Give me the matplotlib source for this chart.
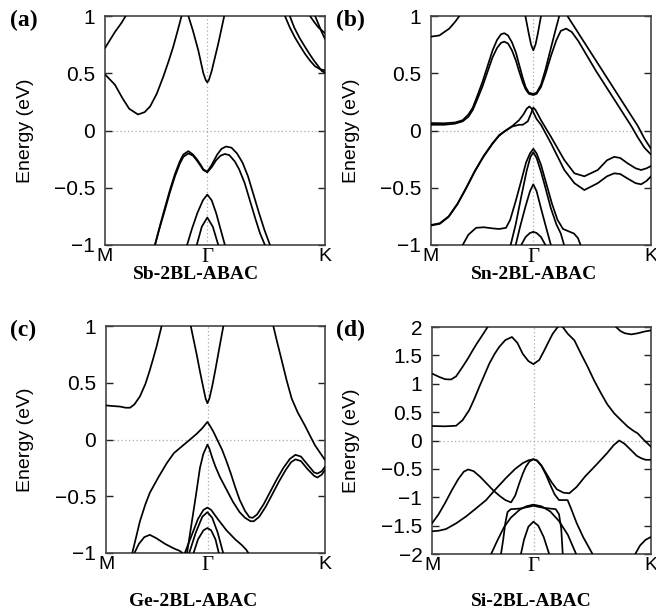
import matplotlib
matplotlib.use("Agg")
import matplotlib.pyplot as plt

# ---------------- k-path (fraction of path length) ----------------
K_TICKS = [0.0, 0.464, 1.0]
K_LABELS = ["M", "Γ", "K"]

# ---------------- (a) Sb-2BL-ABAC ----------------
sb_c1 = [(0, 0.72), (0.045, 0.86), (0.075, 0.94), (0.1, 1.02)]
sb_c2 = [(0, 0.49), (0.045, 0.40), (0.08, 0.28), (0.11, 0.19), (0.15, 0.14), (0.18, 0.16),
         (0.205, 0.21), (0.235, 0.32), (0.265, 0.47), (0.29, 0.61), (0.31, 0.73), (0.33, 0.87), (0.348, 1.0)]
sb_c3 = [(0.379, 1.0), (0.40, 0.87), (0.424, 0.70), (0.447, 0.50), (0.458, 0.44), (0.465, 0.42),
         (0.472, 0.44), (0.485, 0.52), (0.50, 0.64), (0.515, 0.76), (0.542, 1.0)]
sb_c4 = [(0.818, 1.0), (0.84, 0.90), (0.864, 0.81), (0.886, 0.74), (0.909, 0.67), (0.932, 0.61),
         (0.955, 0.56), (0.978, 0.535), (1.0, 0.525)]
sb_c5 = [(0.84, 1.0), (0.86, 0.90), (0.884, 0.81), (0.906, 0.74), (0.929, 0.67), (0.95, 0.61),
         (0.97, 0.56), (0.985, 0.52), (1.0, 0.505)]
sb_c6 = [(0.932, 1.0), (0.95, 0.95), (0.97, 0.90), (1.0, 0.85)]
sb_c7 = [(0.955, 1.0), (0.97, 0.93), (0.985, 0.86), (1.0, 0.80)]
sb_v1 = [(0.227, -1.0), (0.25, -0.84), (0.273, -0.69), (0.295, -0.54), (0.318, -0.40), (0.34, -0.29),
         (0.356, -0.23), (0.379, -0.20), (0.40, -0.22), (0.417, -0.26), (0.435, -0.31), (0.447, -0.345),
         (0.465, -0.365), (0.485, -0.32), (0.505, -0.26), (0.525, -0.22), (0.545, -0.205), (0.565, -0.215),
         (0.59, -0.27), (0.61, -0.34), (0.635, -0.46), (0.66, -0.62), (0.685, -0.78), (0.705, -0.90), (0.727, -1.0)]
sb_v2 = [(0.227, -1.0), (0.25, -0.83), (0.273, -0.67), (0.295, -0.52), (0.318, -0.38), (0.34, -0.27),
         (0.356, -0.21), (0.379, -0.18), (0.40, -0.21), (0.417, -0.25), (0.435, -0.30), (0.447, -0.34),
         (0.465, -0.36), (0.485, -0.30), (0.51, -0.21), (0.53, -0.16), (0.55, -0.14), (0.575, -0.15),
         (0.60, -0.20), (0.625, -0.28), (0.65, -0.40), (0.675, -0.56), (0.70, -0.72), (0.725, -0.87), (0.75, -1.0)]
sb_v3 = [(0.373, -1.0), (0.395, -0.86), (0.42, -0.72), (0.445, -0.61), (0.465, -0.56), (0.485, -0.61),
         (0.505, -0.72), (0.525, -0.86), (0.545, -1.0)]
sb_v4 = [(0.417, -1.0), (0.44, -0.84), (0.465, -0.76), (0.49, -0.84), (0.515, -1.0)]
SB_BANDS = [sb_c1, sb_c2, sb_c3, sb_c4, sb_c5, sb_c6, sb_c7, sb_v1, sb_v2, sb_v3, sb_v4]

# ---------------- (b) Sn-2BL-ABAC ----------------
sn_c1 = [(0, 0.82), (0.038, 0.83), (0.083, 0.89), (0.11, 0.95), (0.129, 1.0)]
sn_c2 = [(0.429, 1.0), (0.445, 0.84), (0.455, 0.75), (0.465, 0.70), (0.475, 0.75), (0.485, 0.84), (0.50, 1.0)]
sn_c3 = [(0, 0.065), (0.06, 0.063), (0.11, 0.07), (0.144, 0.09), (0.17, 0.14), (0.19, 0.20), (0.21, 0.30),
         (0.235, 0.43), (0.26, 0.58), (0.28, 0.70), (0.30, 0.79), (0.318, 0.84), (0.333, 0.85), (0.35, 0.83),
         (0.368, 0.77), (0.386, 0.68), (0.40, 0.58), (0.417, 0.46), (0.43, 0.38), (0.445, 0.33), (0.465, 0.32),
         (0.48, 0.33), (0.50, 0.40), (0.52, 0.53), (0.545, 0.72), (0.565, 0.87), (0.583, 1.0)]
sn_c4 = [(0, 0.05), (0.06, 0.05), (0.11, 0.06), (0.144, 0.08), (0.17, 0.12), (0.19, 0.18), (0.21, 0.27),
         (0.235, 0.39), (0.26, 0.53), (0.28, 0.64), (0.30, 0.72), (0.318, 0.765), (0.333, 0.776), (0.35, 0.76),
         (0.368, 0.70), (0.386, 0.61), (0.40, 0.52), (0.417, 0.42), (0.43, 0.36), (0.445, 0.32), (0.465, 0.31),
         (0.48, 0.32), (0.50, 0.38), (0.52, 0.49), (0.545, 0.65), (0.57, 0.79), (0.59, 0.87), (0.614, 0.89),
         (0.64, 0.86), (0.67, 0.78), (0.71, 0.65), (0.75, 0.52), (0.79, 0.40), (0.83, 0.28), (0.87, 0.16),
         (0.91, 0.04), (0.94, -0.06), (0.97, -0.15), (1.0, -0.21)]
sn_c5 = [(0.62, 1.0), (0.66, 0.88), (0.70, 0.76), (0.74, 0.64), (0.78, 0.52), (0.82, 0.40), (0.86, 0.28),
         (0.90, 0.16), (0.94, 0.04), (0.97, -0.07), (1.0, -0.16)]
sn_v1 = [(0, -0.825), (0.04, -0.81), (0.08, -0.75), (0.12, -0.64), (0.16, -0.50), (0.20, -0.35), (0.24, -0.22),
         (0.28, -0.11), (0.31, -0.04), (0.34, 0.0), (0.37, 0.04), (0.40, 0.09), (0.42, 0.14), (0.435, 0.19),
         (0.447, 0.21), (0.458, 0.19), (0.465, 0.16), (0.48, 0.10), (0.50, 0.05), (0.545, -0.11), (0.606, -0.345),
         (0.652, -0.46), (0.697, -0.52), (0.758, -0.46), (0.80, -0.40), (0.833, -0.374), (0.86, -0.38),
         (0.894, -0.42), (0.93, -0.46), (0.955, -0.47), (0.98, -0.44), (1.0, -0.40)]
sn_v2 = [(0, -0.83), (0.04, -0.815), (0.08, -0.755), (0.12, -0.645), (0.16, -0.505), (0.20, -0.355),
         (0.24, -0.225), (0.28, -0.115), (0.31, -0.045), (0.34, 0.0), (0.37, 0.035), (0.40, 0.05), (0.417, 0.05),
         (0.44, 0.08), (0.455, 0.15), (0.465, 0.20), (0.475, 0.18), (0.50, 0.09), (0.545, -0.054), (0.606, -0.258),
         (0.652, -0.374), (0.697, -0.40), (0.758, -0.345), (0.80, -0.26), (0.833, -0.23), (0.86, -0.24),
         (0.894, -0.287), (0.93, -0.33), (0.955, -0.345), (0.98, -0.33), (1.0, -0.31)]
sn_v3 = [(0.144, -1.0), (0.17, -0.91), (0.205, -0.85), (0.24, -0.845), (0.28, -0.855), (0.31, -0.86),
         (0.341, -0.85), (0.36, -0.78), (0.386, -0.61), (0.41, -0.44), (0.432, -0.28), (0.45, -0.20),
         (0.465, -0.16), (0.48, -0.20), (0.50, -0.30), (0.525, -0.47), (0.55, -0.64), (0.575, -0.78),
         (0.60, -0.86), (0.625, -0.88), (0.65, -0.90), (0.668, -0.94), (0.68, -1.0)]
sn_v4 = [(0.362, -1.0), (0.385, -0.82), (0.41, -0.58), (0.435, -0.35), (0.452, -0.23), (0.465, -0.19),
         (0.48, -0.24), (0.50, -0.36), (0.52, -0.50), (0.545, -0.68), (0.57, -0.82), (0.59, -0.90), (0.605, -1.0)]
sn_v5 = [(0.385, -1.0), (0.405, -0.84), (0.43, -0.66), (0.45, -0.53), (0.465, -0.47), (0.48, -0.53),
         (0.50, -0.68), (0.525, -0.86), (0.545, -1.0)]
sn_v6 = [(0.41, -1.0), (0.43, -0.93), (0.45, -0.895), (0.465, -0.885), (0.48, -0.895), (0.50, -0.93), (0.52, -1.0)]
SN_BANDS = [sn_c1, sn_c2, sn_c3, sn_c4, sn_c5, sn_v1, sn_v2, sn_v3, sn_v4, sn_v5, sn_v6]

# ---------------- (c) Ge-2BL-ABAC ----------------
ge_c1 = [(0, 0.30), (0.03, 0.295), (0.064, 0.29), (0.09, 0.28), (0.11, 0.28), (0.13, 0.31), (0.155, 0.38),
         (0.18, 0.49), (0.20, 0.61), (0.215, 0.71), (0.231, 0.82), (0.254, 1.0)]
ge_c2 = [(0.387, 1.0), (0.40, 0.88), (0.415, 0.74), (0.43, 0.59), (0.445, 0.45), (0.455, 0.36), (0.463, 0.32),
         (0.472, 0.36), (0.485, 0.47), (0.50, 0.62), (0.515, 0.78), (0.536, 1.0)]
ge_c3 = [(0.764, 1.0), (0.78, 0.87), (0.802, 0.70), (0.825, 0.52), (0.848, 0.36), (0.875, 0.24), (0.909, 0.12),
         (0.93, 0.04), (0.954, -0.05), (0.975, -0.11), (1.0, -0.18)]
ge_v1 = [(0.12, -1.0), (0.135, -0.88), (0.155, -0.72), (0.18, -0.57), (0.20, -0.47), (0.24, -0.33),
         (0.277, -0.21), (0.31, -0.12), (0.353, -0.05), (0.39, 0.01), (0.414, 0.05), (0.44, 0.10), (0.463, 0.155),
         (0.475, 0.12), (0.49, 0.07), (0.51, -0.01), (0.53, -0.09), (0.55, -0.19), (0.57, -0.30), (0.59, -0.42),
         (0.61, -0.53), (0.635, -0.63), (0.655, -0.685), (0.67, -0.69), (0.69, -0.66), (0.72, -0.57),
         (0.75, -0.46), (0.78, -0.35), (0.81, -0.25), (0.84, -0.17), (0.865, -0.135), (0.89, -0.15),
         (0.92, -0.22), (0.95, -0.29), (0.965, -0.30), (0.985, -0.28), (1.0, -0.24)]
ge_v2 = [(0.37, -1.0), (0.39, -0.75), (0.41, -0.50), (0.429, -0.25), (0.444, -0.13), (0.463, -0.045),
         (0.472, -0.08), (0.485, -0.16), (0.50, -0.24), (0.52, -0.33), (0.55, -0.44), (0.58, -0.55), (0.61, -0.64),
         (0.635, -0.69), (0.66, -0.72), (0.675, -0.72), (0.70, -0.68), (0.73, -0.59), (0.76, -0.48), (0.79, -0.37),
         (0.82, -0.27), (0.845, -0.20), (0.865, -0.175), (0.89, -0.19), (0.92, -0.26), (0.95, -0.32),
         (0.965, -0.335), (0.985, -0.31), (1.0, -0.27)]
ge_v3 = [(0.13, -1.0), (0.15, -0.92), (0.175, -0.86), (0.2, -0.84), (0.23, -0.87), (0.27, -0.92), (0.31, -0.96),
         (0.335, -0.98), (0.35, -1.0)]
ge_v4 = [(0.36, -1.0), (0.39, -0.85), (0.42, -0.70), (0.445, -0.62), (0.463, -0.60), (0.48, -0.62), (0.51, -0.70),
         (0.55, -0.80), (0.59, -0.88), (0.62, -0.93), (0.64, -0.97), (0.65, -1.0)]
ge_v5 = [(0.38, -1.0), (0.41, -0.82), (0.44, -0.68), (0.463, -0.64), (0.485, -0.69), (0.51, -0.82), (0.535, -1.0)]
ge_v6 = [(0.40, -1.0), (0.42, -0.88), (0.445, -0.80), (0.463, -0.78), (0.48, -0.80), (0.50, -0.88), (0.515, -1.0)]
GE_BANDS = [ge_c1, ge_c2, ge_c3, ge_v1, ge_v2, ge_v3, ge_v4, ge_v5, ge_v6]

# ---------------- (d) Si-2BL-ABAC ----------------
si_c1 = [(0, 1.18), (0.033, 1.12), (0.06, 1.08), (0.087, 1.075), (0.11, 1.13), (0.14, 1.30), (0.165, 1.45),
         (0.186, 1.59), (0.205, 1.71), (0.224, 1.82), (0.254, 2.0)]
si_c2 = [(0, 0.255), (0.06, 0.25), (0.11, 0.26), (0.14, 0.36), (0.17, 0.536), (0.193, 0.73), (0.216, 0.946),
         (0.24, 1.16), (0.262, 1.357), (0.285, 1.52), (0.307, 1.65), (0.335, 1.77), (0.365, 1.824), (0.39, 1.72),
         (0.414, 1.53), (0.44, 1.40), (0.463, 1.345), (0.49, 1.42), (0.513, 1.59), (0.535, 1.76), (0.551, 1.88),
         (0.574, 2.0), (0.585, 2.04), (0.597, 2.0), (0.62, 1.88), (0.65, 1.766), (0.68, 1.53), (0.711, 1.297),
         (0.74, 1.06), (0.772, 0.83), (0.80, 0.64), (0.832, 0.478), (0.86, 0.37), (0.894, 0.243), (0.92, 0.17),
         (0.939, 0.126), (0.97, 0.0), (1.0, -0.11)]
si_c3 = [(0.84, 2.0), (0.86, 1.93), (0.88, 1.89), (0.91, 1.87), (0.94, 1.89), (0.97, 1.92), (1.0, 1.94)]
si_v1 = [(0, -1.46), (0.03, -1.30), (0.06, -1.10), (0.09, -0.88), (0.12, -0.68), (0.145, -0.55), (0.165, -0.51),
         (0.19, -0.54), (0.22, -0.64), (0.25, -0.76), (0.28, -0.88), (0.31, -0.98), (0.335, -1.05), (0.361, -1.09),
         (0.38, -0.97), (0.399, -0.75), (0.415, -0.58), (0.429, -0.46), (0.445, -0.37), (0.463, -0.33),
         (0.48, -0.35), (0.50, -0.44), (0.52, -0.57), (0.545, -0.73), (0.57, -0.86), (0.60, -0.92), (0.627, -0.93),
         (0.66, -0.82), (0.70, -0.63), (0.757, -0.40), (0.80, -0.22), (0.83, -0.08), (0.855, 0.0), (0.88, -0.06),
         (0.909, -0.17), (0.935, -0.27), (0.954, -0.31), (0.975, -0.34), (1.0, -0.34)]
si_v2 = [(0, -1.60), (0.03, -1.59), (0.064, -1.56), (0.11, -1.46), (0.155, -1.34), (0.2, -1.20), (0.247, -1.05),
         (0.29, -0.86), (0.338, -0.66), (0.38, -0.50), (0.414, -0.40), (0.44, -0.35), (0.463, -0.33), (0.48, -0.36),
         (0.50, -0.45), (0.52, -0.60), (0.54, -0.78), (0.56, -0.95), (0.58, -1.05), (0.60, -1.05), (0.619, -1.05),
         (0.635, -1.20), (0.66, -1.45), (0.69, -1.70), (0.733, -2.0)]
si_v3 = [(0.315, -2.0), (0.325, -1.75), (0.335, -1.45), (0.345, -1.26), (0.36, -1.21), (0.40, -1.20), (0.44, -1.17),
         (0.463, -1.15), (0.50, -1.18), (0.54, -1.20), (0.565, -1.21), (0.58, -1.30), (0.59, -1.55), (0.597, -2.0)]
si_v4 = [(0.27, -2.0), (0.30, -1.75), (0.33, -1.52), (0.36, -1.36), (0.40, -1.22), (0.43, -1.16), (0.463, -1.13),
         (0.50, -1.16), (0.54, -1.25), (0.58, -1.42), (0.62, -1.66), (0.658, -2.0)]
si_v5 = [(0.406, -2.0), (0.42, -1.75), (0.44, -1.52), (0.463, -1.43), (0.485, -1.50), (0.51, -1.70), (0.535, -2.0)]
si_v6 = [(0.928, -2.0), (0.95, -1.85), (0.975, -1.75), (1.0, -1.70)]
SI_BANDS = [si_c1, si_c2, si_c3, si_v1, si_v2, si_v3, si_v4, si_v5, si_v6]

YT_SMALL = [-1, -0.5, 0, 0.5, 1]
YT_SMALL_LABELS = ["\u22121", "\u22120.5", "0", "0.5", "1"]
YT_BIG = [-2, -1.5, -1, -0.5, 0, 0.5, 1, 1.5, 2]
YT_BIG_LABELS = ["\u22122", "\u22121.5", "\u22121", "\u22120.5", "0", "0.5", "1", "1.5", "2"]

PANELS = [
    dict(bands=SB_BANDS, tag="(a)", name="Sb-2BL-ABAC", ylim=(-1, 1), yt=YT_SMALL, ytl=YT_SMALL_LABELS,
         rect=(105, 16, 220, 229), title_x=196, title_y=275, tag_x=10, tag_y=10, ylab_x=25),
    dict(bands=SN_BANDS, tag="(b)", name="Sn-2BL-ABAC", ylim=(-1, 1), yt=YT_SMALL, ytl=YT_SMALL_LABELS,
         rect=(431, 16, 220, 229), title_x=534, title_y=275, tag_x=336, tag_y=10, ylab_x=351),
    dict(bands=GE_BANDS, tag="(c)", name="Ge-2BL-ABAC", ylim=(-1, 1), yt=YT_SMALL, ytl=YT_SMALL_LABELS,
         rect=(106, 326, 219, 227), title_x=193, title_y=601, tag_x=10, tag_y=320, ylab_x=25),
    dict(bands=SI_BANDS, tag="(d)", name="Si-2BL-ABAC", ylim=(-2, 2), yt=YT_BIG, ytl=YT_BIG_LABELS,
         rect=(432, 327, 219, 227), title_x=531, title_y=601, tag_x=336, tag_y=320, ylab_x=351),
]

W, H = 656, 610
fig = plt.figure(figsize=(W / 100, H / 100), dpi=100)
SANS = ["Liberation Sans", "DejaVu Sans"]
SERIF = ["Liberation Serif", "DejaVu Serif"]

for p in PANELS:
    x0, y0, w, h = p["rect"]
    ax = fig.add_axes([x0 / W, 1 - (y0 + h) / H, w / W, h / H])
    for band in p["bands"]:
        ks = [pt[0] for pt in band]
        es = [pt[1] for pt in band]
        ax.plot(ks, es, color="black", lw=1.25, solid_capstyle="round", solid_joinstyle="round", zorder=3)
    ax.axvline(K_TICKS[1], color="#aaaaaa", ls=(0, (1, 2)), lw=0.9, zorder=1)
    ax.axhline(0, color="#aaaaaa", ls=(0, (1, 2)), lw=0.9, zorder=1)
    ax.set_xlim(0, 1)
    ax.set_ylim(*p["ylim"])
    ax.set_xticks(K_TICKS)
    ax.set_xticklabels(K_LABELS, fontsize=14, family=SANS)
    ax.get_xticklabels()[1].set_family(SERIF)
    ax.get_xticklabels()[1].set_fontsize(15)
    ax.set_yticks(p["yt"])
    ax.set_yticklabels(p["ytl"], fontsize=15, family=SANS)
    ax.tick_params(axis="y", direction="in", left=True, right=True, length=5, width=1, pad=7, colors="#222222",
                   labelcolor="black")
    ax.tick_params(axis="x", length=0, pad=2)
    for s in ax.spines.values():
        s.set_color("#444444")
        s.set_linewidth(1.2)
    fig.text(p["title_x"] / W, 1 - p["title_y"] / H, p["name"], ha="center", va="center",
             fontsize=14, fontweight="bold", family=SERIF)
    fig.text(p["tag_x"] / W, 1 - p["tag_y"] / H, p["tag"], ha="left", va="top",
             fontsize=17, fontweight="bold", family=SERIF)
    fig.text(p["ylab_x"] / W, 1 - (y0 + h / 2) / H, "Energy (eV)", rotation=90, ha="center", va="center",
             fontsize=14, family=SANS)

fig.savefig("out.png", dpi=100)
